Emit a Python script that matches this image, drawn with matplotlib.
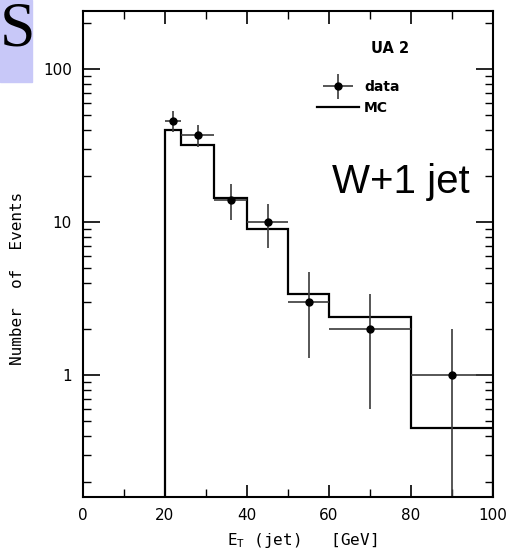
import numpy as np
import matplotlib
matplotlib.use("Agg")
import matplotlib.pyplot as plt
from matplotlib.lines import Line2D
from matplotlib.container import ErrorbarContainer
from matplotlib.legend_handler import HandlerErrorbar
from matplotlib.ticker import FixedLocator, LogLocator, NullFormatter, FixedFormatter

# Bordes de los bins (GeV) y contenidos
bordes = [20, 24, 32, 40, 50, 60, 80, 100]
mc = [40, 32, 14.5, 9.0, 3.4, 2.4, 0.45]

centros = [22, 28, 36, 45, 55, 70, 90]
datos = [46, 37, 14, 10, 3, 2, 1]
err_sup = [7, 6, 3.7, 3.2, 1.7, 1.4, 1.0]
err_inf = [7, 6, 3.7, 3.2, 1.7, 1.4, 0.99]
xerr_izq = [2, 4, 4, 5, 5, 10, 10]
xerr_der = [2, 4, 4, 5, 5, 10, 10]

W, H = 514, 556
fig = plt.figure(figsize=(W / 100, H / 100), dpi=100)
ax = fig.add_axes([83 / W, 1 - 497 / H, 410 / W, 486 / H])

ax.set_yscale("log")
ax.set_xlim(0, 100)
ax.set_ylim(0.16, 240)

# Histograma MC
ax.stairs(mc, bordes, baseline=1e-3, color="black", lw=1.6)

# Datos con barras de error
cont = ax.errorbar(centros, datos, yerr=[err_inf, err_sup], xerr=[xerr_izq, xerr_der],
                   fmt="o", color="black", ecolor="#3a3a3a", elinewidth=1.2,
                   markersize=5, capsize=0)

# Ejes y ticks hacia adentro
ax.tick_params(which="both", direction="in", top=True, right=True)
ax.xaxis.set_major_locator(FixedLocator([0, 20, 40, 60, 80, 100]))
ax.xaxis.set_minor_locator(FixedLocator([10, 30, 50, 70, 90]))
ax.tick_params(axis="x", which="major", length=9, width=1.2, labelsize=11, pad=8)
ax.tick_params(axis="x", which="minor", length=6, width=1.0)
ax.yaxis.set_major_locator(FixedLocator([1, 10, 100]))
ax.yaxis.set_major_formatter(FixedFormatter(["1", "10", "100"]))
ax.yaxis.set_minor_locator(LogLocator(base=10, subs=np.arange(2, 10), numticks=20))
ax.yaxis.set_minor_formatter(NullFormatter())
ax.tick_params(axis="y", which="major", length=12, width=1.2, labelsize=11, pad=8)
ax.tick_params(axis="y", which="minor", length=6, width=1.0)
for s in ax.spines.values():
    s.set_linewidth(1.5)

ax.set_xlabel(r"E$_\mathtt{T}$ (jet)   [GeV]", fontsize=11.5,
              family="DejaVu Sans Mono", labelpad=6, x=0.534)
fig.text(18 / W, 1 - 278 / H, "Number  of  Events", rotation=90, fontsize=11.5,
         family="DejaVu Sans Mono", ha="center", va="center")

# Leyenda
proxy_mc = Line2D([], [], color="black", lw=1.6)
ax.legend([cont, proxy_mc], ["data", "MC"], loc="upper left",
          bbox_to_anchor=(0.571, 0.858), frameon=False,
          prop={"size": 10, "weight": "bold"},
          handlelength=3.0, handletextpad=0.38, labelspacing=0.5,
          borderpad=0, borderaxespad=0,
          handler_map={ErrorbarContainer: HandlerErrorbar(xerr_size=1.1, yerr_size=0.9)})

ax.text(0.749, 0.922, "UA 2", transform=ax.transAxes, fontsize=10.5,
        ha="center", va="center", fontweight="bold")
ax.text(0.607, 0.626, "W+1 jet", transform=ax.transAxes, fontsize=29,
        family="Liberation Sans", ha="left", va="baseline")

# Recorte del título de la diapositiva
fig.patches.append(plt.Rectangle((0, 1 - 82 / H), 32 / W, 82 / H,
                                 transform=fig.transFigure, color="#c8c8f8",
                                 zorder=0))
fig.text(0, 1 - 1 / H, "S", fontsize=46, family="Liberation Serif",
         ha="left", va="top")

fig.savefig("out.png", dpi=100)
